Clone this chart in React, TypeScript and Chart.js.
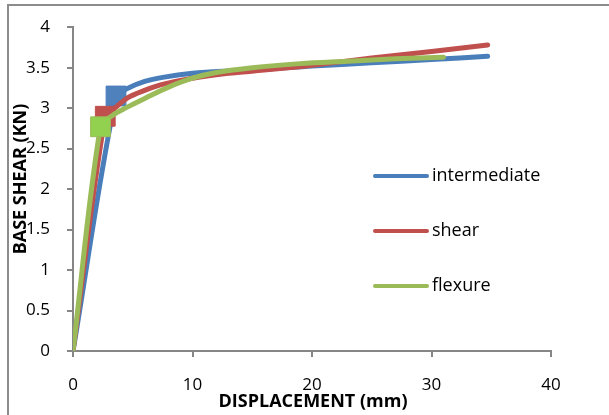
import React, { useEffect, useRef } from "react";
import { Chart, registerables } from "chart.js";

Chart.register(...registerables);

const seriesNames = ["intermediate", "shear", "flexure"];
const seriesColors = ["#4A7EBB", "#C0504D", "#9BBB59"];
const markerFill = ["#4F81BD", "#C0504D", "#92D050"];
const markerBorder = ["#4A7EBB", "#C0504D", "#9BBB59"];

const intermediateX = [0, 3.6, 4.5, 6, 7.5, 10, 13, 16, 20, 25, 30, 34.7];
const intermediateY = [0, 3.15, 3.24, 3.33, 3.38, 3.43, 3.46, 3.48, 3.52, 3.56, 3.6, 3.64];
const shearX = [0, 2.7, 3.5, 4.6, 6, 7.4, 10, 13, 16, 20, 25, 30, 34.7];
const shearY = [0, 2.9, 3.0, 3.13, 3.22, 3.29, 3.37, 3.43, 3.47, 3.53, 3.62, 3.7, 3.78];
const flexureX = [0, 2.3, 3.3, 4.5, 6, 8, 10, 12, 15, 19, 23, 27, 31];
const flexureY = [0, 2.77, 2.91, 3.01, 3.12, 3.26, 3.37, 3.44, 3.5, 3.55, 3.58, 3.61, 3.63];
const yieldIndex = 1;

const xTitle = "DISPLACEMENT (mm)";
const yTitle = "BASE SHEAR (KN)";

const FONT = "'Open Sans', 'Liberation Sans', sans-serif";

function toPoints(xs: number[], ys: number[]) {
  return xs.map((x, i) => ({ x, y: ys[i] }));
}

const decorPlugin = {
  id: "decor",
  beforeDraw(chart: any) {
    const ctx = chart.ctx;
    ctx.save();
    ctx.strokeStyle = "#8C8C8C";
    ctx.lineWidth = 2;
    ctx.beginPath();
    ctx.moveTo(609, 5);
    ctx.lineTo(8, 5);
    ctx.lineTo(8, 415);
    ctx.stroke();
    ctx.restore();
  },
  afterDraw(chart: any) {
    const ctx = chart.ctx;
    const area = chart.chartArea;
    ctx.save();
    ctx.fillStyle = "#000";
    ctx.font = `bold 18px ${FONT}`;
    ctx.textAlign = "center";
    ctx.textBaseline = "middle";
    ctx.fillText(xTitle, 313, 402);
    ctx.translate(21, 179);
    ctx.rotate(-Math.PI / 2);
    ctx.fillText(yTitle, 0, 0);
    ctx.restore();

    ctx.save();
    const lx = area.left + 302;
    const ys = [176, 231, 286];
    ctx.font = `18px ${FONT}`;
    ctx.textAlign = "left";
    ctx.textBaseline = "middle";
    seriesNames.forEach((name, i) => {
      ctx.strokeStyle = seriesColors[i];
      ctx.lineWidth = 4;
      ctx.lineCap = "round";
      ctx.beginPath();
      ctx.moveTo(lx, ys[i]);
      ctx.lineTo(lx + 52, ys[i]);
      ctx.stroke();
      ctx.fillStyle = "#000";
      ctx.fillText(name, lx + 57, ys[i]);
    });
    ctx.restore();
  },
};

function makeDataset(i: number, xs: number[], ys: number[], order: number) {
  const radius = xs.map((_, k) => (k === yieldIndex ? 14 : 0));
  return {
    label: seriesNames[i],
    data: toPoints(xs, ys),
    borderColor: seriesColors[i],
    backgroundColor: seriesColors[i],
    borderWidth: 5,
    borderCapStyle: "round" as const,
    borderJoinStyle: "round" as const,
    tension: 0.35,
    showLine: true,
    pointStyle: "rect" as const,
    pointRadius: radius,
    pointHoverRadius: radius,
    pointBackgroundColor: markerFill[i],
    pointBorderColor: markerBorder[i],
    pointBorderWidth: 1,
    order,
  };
}

export default function App() {
  const ref = useRef<HTMLCanvasElement | null>(null);
  useEffect(() => {
    if (!ref.current) return;
    const chart = new Chart(ref.current, {
      type: "scatter",
      data: {
        datasets: [
          makeDataset(0, intermediateX, intermediateY, 3),
          makeDataset(1, shearX, shearY, 2),
          makeDataset(2, flexureX, flexureY, 1),
        ],
      },
      options: {
        animation: false,
        responsive: false,
        devicePixelRatio: 1,
        layout: { padding: { left: 0, top: 13, right: 58, bottom: 0 } },
        plugins: {
          legend: { display: false },
          tooltip: { enabled: false },
        },
        scales: {
          x: {
            type: "linear",
            min: 0,
            max: 40,
            ticks: {
              stepSize: 10,
              color: "#000",
              font: { family: FONT, size: 17 },
              padding: 18,
              callback: (v: any) => String(v),
            },
            grid: {
              drawOnChartArea: false,
              drawTicks: true,
              tickLength: 6,
              color: "#868686",
              lineWidth: 2,
            },
            border: { color: "#868686", width: 2 },
            afterFit(scale: any) {
              scale.height = 64;
            },
          },
          y: {
            type: "linear",
            min: 0,
            max: 4,
            ticks: {
              stepSize: 0.5,
              color: "#000",
              font: { family: FONT, size: 17 },
              padding: 17,
              callback: (v: any) => String(Math.round(Number(v) * 10) / 10),
            },
            grid: {
              drawOnChartArea: false,
              drawTicks: true,
              tickLength: 6,
              color: "#868686",
              lineWidth: 2,
            },
            border: { color: "#868686", width: 2 },
            afterFit(scale: any) {
              scale.width = 73;
            },
          },
        },
      },
      plugins: [decorPlugin],
    });
    return () => chart.destroy();
  }, []);
  return (
    <div style={{ position: "fixed", left: 0, top: 0, width: 609, height: 415, background: "#fff" }}>
      <canvas ref={ref} width={609} height={415} style={{ display: "block" }} />
    </div>
  );
}
